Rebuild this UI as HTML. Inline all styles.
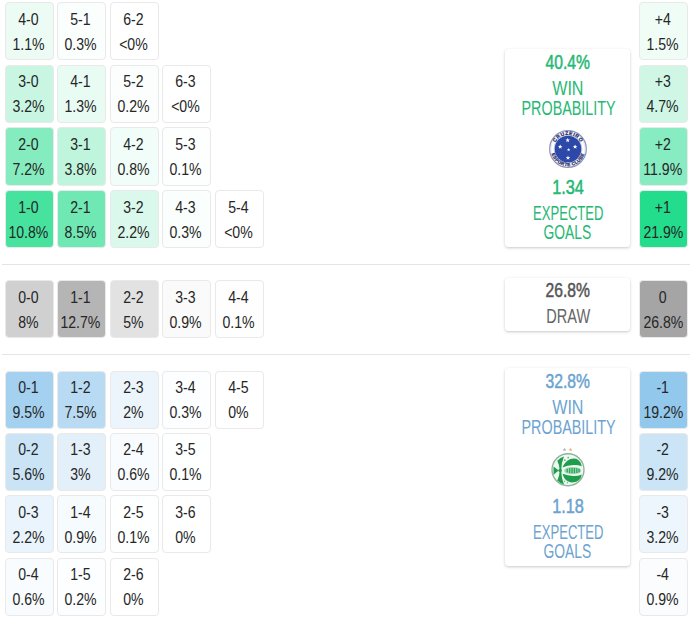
<!DOCTYPE html>
<html><head><meta charset="utf-8"><style>
html,body{margin:0;padding:0;background:#fff;}
body{width:690px;height:619px;position:relative;overflow:hidden;font-family:"Liberation Sans",sans-serif;color:#262626;}
.c{position:absolute;width:49.0px;height:58.2px;box-sizing:border-box;border:1px solid #e9e9e9;border-radius:4px;}
.c .t1,.c .t2{position:absolute;left:-11.6px;right:-10px;text-align:center;font-size:17.2px;line-height:20px;white-space:nowrap;}
.c .t1{top:5.5px;}
.c .t2{top:30.5px;}
.c span{display:inline-block;transform:scaleX(0.82);}
.c.r .t1,.c.r .t2{left:-10.4px;}
.sep{position:absolute;left:2px;right:0;height:1px;background:#e4e4e4;}
.panel{position:absolute;left:505.2px;width:125.3px;background:#fff;border-radius:3.5px;box-shadow:0 1px 3px rgba(0,0,0,0.22);}
.pt{position:absolute;left:0;right:0;text-align:center;white-space:nowrap;line-height:20px;}
.pt span{display:inline-block;}
.logo{position:absolute;}
</style></head><body>
<div class="c" style="left:4.60px;top:2.20px;background:#ecfcf5"><div class="t1"><span>4-0</span></div><div class="t2"><span>1.1%</span></div></div>
<div class="c" style="left:57.10px;top:2.20px;background:#fafefc"><div class="t1"><span>5-1</span></div><div class="t2"><span>0.3%</span></div></div>
<div class="c" style="left:109.60px;top:2.20px;background:#ffffff"><div class="t1"><span>6-2</span></div><div class="t2"><span>&lt;0%</span></div></div>
<div class="c" style="left:4.60px;top:64.83px;background:#c9f6e3"><div class="t1"><span>3-0</span></div><div class="t2"><span>3.2%</span></div></div>
<div class="c" style="left:57.10px;top:64.83px;background:#e9fcf4"><div class="t1"><span>4-1</span></div><div class="t2"><span>1.3%</span></div></div>
<div class="c" style="left:109.60px;top:64.83px;background:#fcfefd"><div class="t1"><span>5-2</span></div><div class="t2"><span>0.2%</span></div></div>
<div class="c" style="left:162.10px;top:64.83px;background:#ffffff"><div class="t1"><span>6-3</span></div><div class="t2"><span>&lt;0%</span></div></div>
<div class="c" style="left:4.60px;top:127.46px;background:#85ecbf"><div class="t1"><span>2-0</span></div><div class="t2"><span>7.2%</span></div></div>
<div class="c" style="left:57.10px;top:127.46px;background:#bff5dd"><div class="t1"><span>3-1</span></div><div class="t2"><span>3.8%</span></div></div>
<div class="c" style="left:109.60px;top:127.46px;background:#f1fdf8"><div class="t1"><span>4-2</span></div><div class="t2"><span>0.8%</span></div></div>
<div class="c" style="left:162.10px;top:127.46px;background:#fdfffe"><div class="t1"><span>5-3</span></div><div class="t2"><span>0.1%</span></div></div>
<div class="c" style="left:4.60px;top:190.09px;background:#48e29f"><div class="t1"><span>1-0</span></div><div class="t2"><span>10.8%</span></div></div>
<div class="c" style="left:57.10px;top:190.09px;background:#6fe8b4"><div class="t1"><span>2-1</span></div><div class="t2"><span>8.5%</span></div></div>
<div class="c" style="left:109.60px;top:190.09px;background:#daf9ec"><div class="t1"><span>3-2</span></div><div class="t2"><span>2.2%</span></div></div>
<div class="c" style="left:162.10px;top:190.09px;background:#fafefc"><div class="t1"><span>4-3</span></div><div class="t2"><span>0.3%</span></div></div>
<div class="c" style="left:214.60px;top:190.09px;background:#ffffff"><div class="t1"><span>5-4</span></div><div class="t2"><span>&lt;0%</span></div></div>
<div class="c" style="left:4.60px;top:280.00px;background:#d0d0d0"><div class="t1"><span>0-0</span></div><div class="t2"><span>8%</span></div></div>
<div class="c" style="left:57.10px;top:280.00px;background:#b5b5b5"><div class="t1"><span>1-1</span></div><div class="t2"><span>12.7%</span></div></div>
<div class="c" style="left:109.60px;top:280.00px;background:#e2e2e2"><div class="t1"><span>2-2</span></div><div class="t2"><span>5%</span></div></div>
<div class="c" style="left:162.10px;top:280.00px;background:#fafafa"><div class="t1"><span>3-3</span></div><div class="t2"><span>0.9%</span></div></div>
<div class="c" style="left:214.60px;top:280.00px;background:#fefefe"><div class="t1"><span>4-4</span></div><div class="t2"><span>0.1%</span></div></div>
<div class="c" style="left:4.60px;top:370.50px;background:#a5d1f0"><div class="t1"><span>0-1</span></div><div class="t2"><span>9.5%</span></div></div>
<div class="c" style="left:57.10px;top:370.50px;background:#b8dbf3"><div class="t1"><span>1-2</span></div><div class="t2"><span>7.5%</span></div></div>
<div class="c" style="left:109.60px;top:370.50px;background:#ecf5fc"><div class="t1"><span>2-3</span></div><div class="t2"><span>2%</span></div></div>
<div class="c" style="left:162.10px;top:370.50px;background:#fcfeff"><div class="t1"><span>3-4</span></div><div class="t2"><span>0.3%</span></div></div>
<div class="c" style="left:214.60px;top:370.50px;background:#ffffff"><div class="t1"><span>4-5</span></div><div class="t2"><span>0%</span></div></div>
<div class="c" style="left:4.60px;top:432.90px;background:#cae4f6"><div class="t1"><span>0-2</span></div><div class="t2"><span>5.6%</span></div></div>
<div class="c" style="left:57.10px;top:432.90px;background:#e3f0fa"><div class="t1"><span>1-3</span></div><div class="t2"><span>3%</span></div></div>
<div class="c" style="left:109.60px;top:432.90px;background:#f9fcfe"><div class="t1"><span>2-4</span></div><div class="t2"><span>0.6%</span></div></div>
<div class="c" style="left:162.10px;top:432.90px;background:#feffff"><div class="t1"><span>3-5</span></div><div class="t2"><span>0.1%</span></div></div>
<div class="c" style="left:4.60px;top:495.30px;background:#eaf4fc"><div class="t1"><span>0-3</span></div><div class="t2"><span>2.2%</span></div></div>
<div class="c" style="left:57.10px;top:495.30px;background:#f6fbfe"><div class="t1"><span>1-4</span></div><div class="t2"><span>0.9%</span></div></div>
<div class="c" style="left:109.60px;top:495.30px;background:#feffff"><div class="t1"><span>2-5</span></div><div class="t2"><span>0.1%</span></div></div>
<div class="c" style="left:162.10px;top:495.30px;background:#ffffff"><div class="t1"><span>3-6</span></div><div class="t2"><span>0%</span></div></div>
<div class="c" style="left:4.60px;top:557.70px;background:#f9fcfe"><div class="t1"><span>0-4</span></div><div class="t2"><span>0.6%</span></div></div>
<div class="c" style="left:57.10px;top:557.70px;background:#fdfeff"><div class="t1"><span>1-5</span></div><div class="t2"><span>0.2%</span></div></div>
<div class="c" style="left:109.60px;top:557.70px;background:#ffffff"><div class="t1"><span>2-6</span></div><div class="t2"><span>0%</span></div></div>
<div class="c r" style="left:638.70px;top:2.20px;background:#f0fdf7"><div class="t1"><span>+4</span></div><div class="t2"><span>1.5%</span></div></div>
<div class="c r" style="left:638.70px;top:64.83px;background:#d0f7e6"><div class="t1"><span>+3</span></div><div class="t2"><span>4.7%</span></div></div>
<div class="c r" style="left:638.70px;top:127.46px;background:#87ecc1"><div class="t1"><span>+2</span></div><div class="t2"><span>11.9%</span></div></div>
<div class="c r" style="left:638.70px;top:190.09px;background:#23dc8c"><div class="t1"><span>+1</span></div><div class="t2"><span>21.9%</span></div></div>
<div class="c r" style="left:638.70px;top:280.00px;background:#a5a5a5"><div class="t1"><span>0</span></div><div class="t2"><span>26.8%</span></div></div>
<div class="c r" style="left:638.70px;top:370.50px;background:#93c8ed"><div class="t1"><span>-1</span></div><div class="t2"><span>19.2%</span></div></div>
<div class="c r" style="left:638.70px;top:432.90px;background:#cbe5f7"><div class="t1"><span>-2</span></div><div class="t2"><span>9.2%</span></div></div>
<div class="c r" style="left:638.70px;top:495.30px;background:#edf6fc"><div class="t1"><span>-3</span></div><div class="t2"><span>3.2%</span></div></div>
<div class="c r" style="left:638.70px;top:557.70px;background:#fafcfe"><div class="t1"><span>-4</span></div><div class="t2"><span>0.9%</span></div></div>
<div class="sep" style="top:264px"></div>
<div class="sep" style="top:354px"></div>
<div class="panel" style="top:48.8px;height:198.2px">
 <div class="pt" style="top:3.2px;color:#26b874;font-weight:normal;-webkit-text-stroke:0.5px currentColor;font-size:19.6px"><span style="transform:scaleX(0.8)">40.4%</span></div>
 <div class="pt" style="top:29px;color:#26b874;font-size:19.4px"><span style="transform:scaleX(0.83)">WIN</span></div>
 <div class="pt" style="top:49px;color:#26b874;font-size:19.4px"><span style="transform:scaleX(0.74)">PROBABILITY</span></div>
 <div class="pt" style="top:128px;color:#26b874;font-weight:normal;-webkit-text-stroke:0.5px currentColor;font-size:19.6px"><span style="transform:scaleX(0.83)">1.34</span></div>
 <div class="pt" style="top:154px;color:#26b874;font-size:19.4px"><span style="transform:scaleX(0.675)">EXPECTED</span></div>
 <div class="pt" style="top:173px;color:#26b874;font-size:19.4px"><span style="transform:scaleX(0.715)">GOALS</span></div>
</div>
<div class="panel" style="top:277.9px;height:52.8px">
 <div class="pt" style="top:2px;color:#555;font-weight:normal;-webkit-text-stroke:0.5px currentColor;font-size:19.6px"><span style="transform:scaleX(0.8)">26.8%</span></div>
 <div class="pt" style="top:28px;color:#666;font-size:19.4px"><span style="transform:scaleX(0.75)">DRAW</span></div>
</div>
<div class="panel" style="top:368px;height:197.7px">
 <div class="pt" style="top:3px;color:#6ca3d0;font-weight:normal;-webkit-text-stroke:0.5px currentColor;font-size:19.6px"><span style="transform:scaleX(0.8)">32.8%</span></div>
 <div class="pt" style="top:29px;color:#6ca3d0;font-size:19.4px"><span style="transform:scaleX(0.83)">WIN</span></div>
 <div class="pt" style="top:49px;color:#6ca3d0;font-size:19.4px"><span style="transform:scaleX(0.74)">PROBABILITY</span></div>
 <div class="pt" style="top:128px;color:#6ca3d0;font-weight:normal;-webkit-text-stroke:0.5px currentColor;font-size:19.6px"><span style="transform:scaleX(0.83)">1.18</span></div>
 <div class="pt" style="top:154px;color:#6ca3d0;font-size:19.4px"><span style="transform:scaleX(0.675)">EXPECTED</span></div>
 <div class="pt" style="top:173px;color:#6ca3d0;font-size:19.4px"><span style="transform:scaleX(0.715)">GOALS</span></div>
</div>
<svg class="logo" style="left:549px;top:129.5px" width="38" height="38" viewBox="0 0 38 38">
<circle cx="19" cy="19" r="18.3" fill="#fff" stroke="#8e95b8" stroke-width="1.3"/>
<circle cx="19" cy="19" r="17" fill="none" stroke="#dfe2ee" stroke-width="0.8"/>
<circle cx="19" cy="19" r="13.9" fill="none" stroke="#b6bbd6" stroke-width="0.8"/>
<circle cx="19" cy="19" r="13.3" fill="#2c48a8"/>
<g fill="#fff">
<path id="st" d="M0,-2.3 L0.66,-0.72 2.3,-0.72 0.97,0.3 1.45,1.95 0,0.97 -1.45,1.95 -0.97,0.3 -2.3,-0.72 -0.66,-0.72Z" transform="translate(18.7,10.3)"/>
<use href="#st" transform="translate(-7.5,6.4)"/>
<use href="#st" transform="translate(7.4,6.4)"/>
<use href="#st" transform="translate(19.6,19.8) scale(0.75) translate(-18.7,-10.3)"/>
<use href="#st" transform="translate(0.3,17.6)"/>
</g>
<path id="arcT" d="M4.9 19 A14.1 14.1 0 0 1 33.1 19" fill="none"/>
<text font-family="Liberation Sans" font-weight="bold" font-size="5" fill="#1f2b6e" letter-spacing="0.6" stroke="#1f2b6e" stroke-width="0.25"><textPath href="#arcT" startOffset="50%" text-anchor="middle">CRUZEIRO</textPath></text>
<path id="arcB" d="M1.9 19 A17.1 17.1 0 0 0 36.1 19" fill="none"/>
<text font-family="Liberation Sans" font-weight="bold" font-size="4.6" fill="#1f2b6e" letter-spacing="0.35" stroke="#1f2b6e" stroke-width="0.25"><textPath href="#arcB" startOffset="50%" text-anchor="middle">ESPORTE CLUBE</textPath></text>
</svg>
<svg class="logo" style="left:549px;top:444px" width="38" height="44" viewBox="0 0 38 44">
<g transform="translate(15.5,5.6)"><path d="M0,-1.9 L0.55,-0.6 1.9,-0.6 0.8,0.25 1.2,1.6 0,0.8 -1.2,1.6 -0.8,0.25 -1.9,-0.6 -0.55,-0.6Z" fill="#b4aec6"/></g>
<g transform="translate(21.6,5.6)"><path d="M0,-1.9 L0.55,-0.6 1.9,-0.6 0.8,0.25 1.2,1.6 0,0.8 -1.2,1.6 -0.8,0.25 -1.9,-0.6 -0.55,-0.6Z" fill="#dcb860"/></g>
<circle cx="19" cy="25.8" r="16" fill="#eef9f1" stroke="#8fb39a" stroke-width="1.4"/>
<g fill="#1f9d4c">
<path d="M8.3 16.7 Q11.4 13.4 15 12.4 Q12.4 18.5 12.3 25.2 L10.6 25.2 Q10.2 20.5 8.3 16.7Z"/>
<path d="M8.3 36.5 Q11.4 39.6 15 40.6 Q12.4 34.6 12.3 28.1 L10.6 28.1 Q10.2 32.6 8.3 36.5Z"/>
<path d="M4.5 22.5 L4.5 30.7 L9.7 26.6Z"/>
<circle cx="11.2" cy="26.6" r="1.8"/>
<path d="M13.5 23.4 Q18.5 21.4 24.3 21.1 Q29.6 21 32.7 22.3 Q32.4 19.6 31.2 17.9 Q29.4 15.6 27.2 14.7 Q24 14.2 21.4 15 Q17.8 16.4 16.1 19.1 Q14.4 21.2 13.5 23.4Z"/>
<path d="M13.5 29.8 Q18.5 31.8 24.3 32 Q29.6 32 32.7 30.4 Q32.4 33 31.2 34.8 Q29.4 36.8 27.2 37.7 Q24 38.6 21.4 38.3 Q17.8 37.4 16.1 35.3 Q14.4 32.8 13.5 29.8Z"/>
</g>
<ellipse cx="23.6" cy="26.6" rx="8.6" ry="3.6" fill="#9ed8b0"/>
<g fill="#2aa55a"><rect x="17.6" y="24.8" width="1.3" height="3.6"/><rect x="20" y="24.2" width="1.3" height="4.8"/><rect x="22.4" y="24" width="1.3" height="5.2"/><rect x="24.8" y="24" width="1.3" height="5.2"/><rect x="27.2" y="24.2" width="1.3" height="4.8"/><rect x="29.4" y="24.8" width="1.3" height="3.6"/></g>
<g fill="#5cbf82"><circle cx="15.8" cy="16.2" r="0.9"/><circle cx="19.2" cy="13.6" r="0.9"/><circle cx="15.6" cy="37.2" r="0.7"/><circle cx="18.4" cy="38.8" r="0.7"/></g>
</svg>
</body></html>
